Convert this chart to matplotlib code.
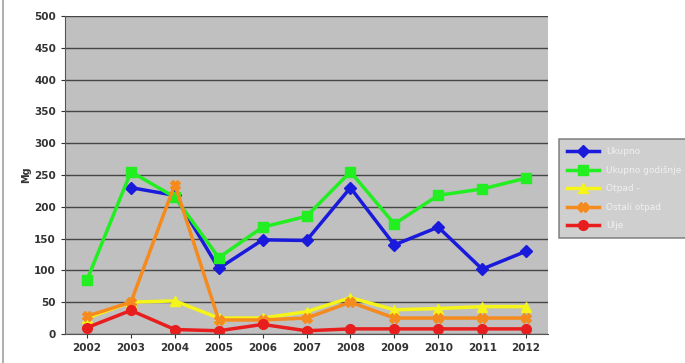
import numpy as np
import matplotlib.pyplot as plt

years = ['2002', '2003', '2004', '2005', '2006', '2007', '2008', '2009', '2010', '2011', '2012']

blue = [np.nan, 230, 218, 103, 148, 147, 230, 140, 168, 102, 130]
green = [85, 255, 215, 120, 168, 185, 255, 173, 218, 228, 245]
yellow = [25, 50, 52, 25, 25, 35, 57, 38, 40, 43, 43]
orange = [28, 50, 235, 22, 22, 25, 50, 25, 25, 25, 25]
red = [10, 37, 7, 5, 15, 5, 8, 8, 8, 8, 8]

labels = ['Ukupno', 'Ukupno godišnje', 'Otpad -', 'Ostali otpad', 'Ulje']

fig = plt.figure(figsize=(6.85, 3.63), dpi=100)
ax = fig.add_axes([0.095, 0.08, 0.705, 0.876])
ax.set_facecolor('#c0c0c0')

x = np.arange(len(years))
ax.plot(x, blue, color='#1a1adc', marker='D', ms=6, lw=2.5, label=labels[0])
ax.plot(x, green, color='#22ee22', marker='s', ms=7, lw=2.5, label=labels[1])
ax.plot(x, yellow, color='#f5f51a', marker='^', ms=7, lw=2.5, label=labels[2])
ax.plot(x, orange, color='#f58a1e', marker='X', ms=7, lw=2.5, label=labels[3])
ax.plot(x, red, color='#e81e1e', marker='o', ms=7, lw=2.5, label=labels[4])

ax.set_xlim(-0.5, len(years) - 0.5)
ax.set_ylim(0, 500)
ax.set_yticks(range(0, 501, 50))
ax.set_xticks(x)
ax.set_xticklabels(years)
ax.grid(axis='y', color='#454545', lw=1.0)
ax.set_axisbelow(True)
ax.tick_params(labelsize=7.5, length=3, colors='#333333')
for t in ax.get_xticklabels() + ax.get_yticklabels():
    t.set_fontweight('bold')
for s in ['top', 'right']:
    ax.spines[s].set_visible(False)
ax.spines['left'].set_color('#555555')
ax.spines['bottom'].set_color('#555555')
ax.set_ylabel('Mg', fontsize=7, fontweight='bold', color='#333333', labelpad=2)

leg = fig.legend(loc='upper left', bbox_to_anchor=(0.81, 0.63), fontsize=6.5,
                 frameon=True, fancybox=False, handlelength=3.5, labelspacing=1.05,
                 borderpad=0.9)
leg.get_frame().set_facecolor('#c4c4c4')
leg.get_frame().set_edgecolor('#707070')
leg.get_frame().set_linewidth(1.2)
for t in leg.get_texts():
    t.set_color('#f0f0f0')

fig.add_artist(plt.Line2D([0.005, 0.005], [0.0, 1.0], color='#b0b0b0', lw=1.5))

fig.savefig('out.png', dpi=100)
